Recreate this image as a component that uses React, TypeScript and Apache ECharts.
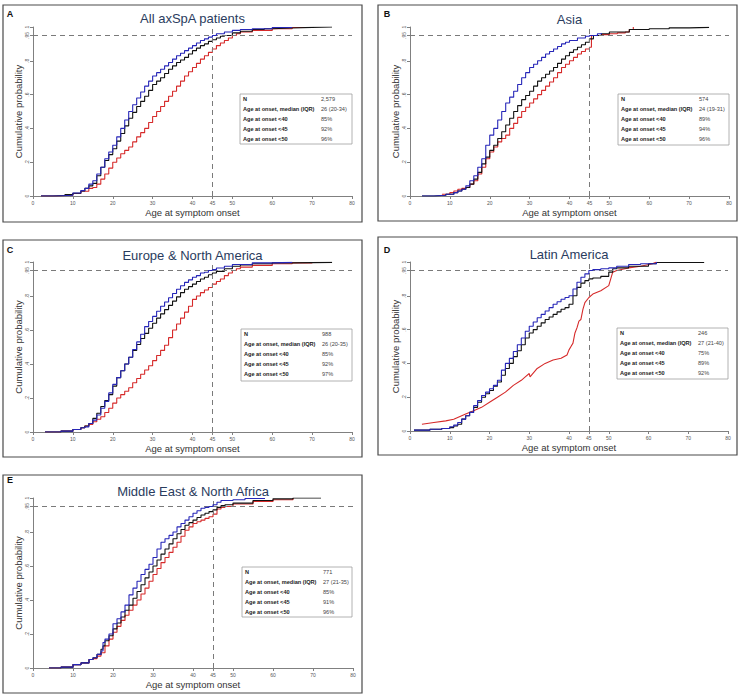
import { useEffect, useRef } from 'react';
import * as echarts from 'echarts';

// ---------- tick values ----------
const xTicks = [0, 10, 20, 30, 40, 45, 50, 60, 70, 80];
const yTicks = [0, 0.2, 0.4, 0.6, 0.8, 0.95, 1];

// ---------- titles / letters ----------
const panelTitles = ['All axSpA patients', 'Asia', 'Europe & North America', 'Latin America', 'Middle East & North Africa'];
const panelLetters = ['A', 'B', 'C', 'D', 'E'];

// ---------- table ----------
const tableLabels = ['N', 'Age at onset, median (IQR)', 'Age at onset <40', 'Age at onset <45', 'Age at onset <50'];
const tableAll = ['2,579', '26 (20-34)', '85%', '92%', '96%'];
const tableAsia = ['574', '24 (19-31)', '89%', '94%', '96%'];
const tableEurope = ['988', '26 (20-35)', '85%', '92%', '97%'];
const tableLatin = ['246', '27 (21-40)', '75%', '89%', '92%'];
const tableMena = ['771', '27 (21-35)', '85%', '91%', '96%'];

// ---------- curves: [age, cumulative probability] ----------
const allBlue = [[2,0],[6,0.004],[10,0.018],[12,0.032],[13,0.045],[14,0.07],[15,0.09],[16,0.13],[17,0.17],[18,0.22],[19,0.26],[20,0.3],[21,0.35],[22,0.4],[23,0.45],[24,0.5],[25,0.54],[26,0.58],[27,0.615],[28,0.65],[29,0.68],[30,0.71],[31,0.73],[32,0.75],[33,0.77],[34,0.79],[35,0.81],[36,0.83],[37,0.845],[38,0.86],[39,0.875],[40,0.89],[41,0.905],[42,0.92],[43,0.93],[44,0.94],[45,0.95],[46,0.96],[48,0.97],[50,0.98],[52,0.985],[55,0.99],[60,0.997],[65,1]];
const allBlack = [[2,0],[5,0.003],[8,0.008],[10,0.016],[12,0.03],[13,0.045],[14,0.06],[15,0.075],[16,0.12],[17,0.17],[18,0.21],[19,0.245],[20,0.28],[21,0.325],[22,0.37],[23,0.415],[24,0.46],[25,0.495],[26,0.53],[27,0.56],[28,0.59],[29,0.625],[30,0.66],[31,0.68],[32,0.7],[33,0.725],[34,0.75],[35,0.77],[36,0.79],[37,0.805],[38,0.82],[39,0.84],[40,0.86],[41,0.875],[42,0.89],[43,0.9],[44,0.915],[45,0.925],[46,0.935],[47,0.945],[48,0.95],[50,0.965],[52,0.975],[55,0.985],[58,0.99],[60,0.994],[65,0.998],[70,1],[75,1]];
const allRed = [[2,0],[6,0.004],[10,0.015],[12,0.028],[14,0.045],[15,0.05],[16,0.07],[17,0.1],[18,0.13],[19,0.165],[20,0.2],[21,0.225],[22,0.25],[23,0.27],[24,0.29],[25,0.32],[26,0.35],[27,0.375],[28,0.4],[29,0.435],[30,0.47],[31,0.5],[32,0.53],[33,0.56],[34,0.59],[35,0.62],[36,0.65],[37,0.68],[38,0.71],[39,0.735],[40,0.76],[41,0.785],[42,0.81],[43,0.83],[44,0.85],[45,0.87],[46,0.89],[47,0.905],[48,0.92],[49,0.935],[50,0.95],[51,0.96],[52,0.97],[55,0.98],[60,0.99],[65,0.997],[70,1]];

const asiaBlue = [[3,0],[6,0.004],[9,0.01],[11,0.02],[12,0.03],[13,0.04],[14,0.06],[15,0.09],[16,0.12],[17,0.17],[18,0.22],[19,0.3],[20,0.36],[21,0.4],[22,0.45],[23,0.5],[24,0.55],[25,0.585],[26,0.62],[27,0.66],[28,0.7],[29,0.73],[30,0.76],[31,0.78],[32,0.8],[33,0.82],[34,0.84],[35,0.855],[36,0.87],[37,0.885],[38,0.9],[39,0.91],[40,0.92],[42,0.935],[44,0.945],[45,0.95],[47,0.96],[48,0.965]];
const asiaBlack = [[3,0],[6,0.004],[9,0.01],[11,0.02],[12,0.03],[13,0.04],[14,0.05],[15,0.07],[16,0.1],[17,0.14],[18,0.19],[19,0.23],[20,0.27],[21,0.3],[22,0.34],[23,0.38],[24,0.42],[25,0.46],[26,0.5],[27,0.535],[28,0.57],[29,0.595],[30,0.62],[31,0.65],[32,0.68],[33,0.7],[34,0.72],[35,0.74],[36,0.76],[37,0.785],[38,0.81],[39,0.83],[40,0.85],[41,0.865],[42,0.88],[43,0.895],[44,0.91],[45,0.93],[46,0.95],[48,0.96],[50,0.97],[55,0.985],[60,0.99],[65,0.995],[70,0.998],[75,1]];
const asiaRed = [[8,0.01],[10,0.02],[11,0.03],[12,0.04],[13,0.045],[14,0.05],[15,0.07],[16,0.09],[17,0.13],[18,0.17],[19,0.22],[20,0.26],[21,0.29],[22,0.32],[23,0.34],[24,0.36],[25,0.4],[26,0.43],[27,0.465],[28,0.5],[29,0.525],[30,0.55],[31,0.575],[32,0.6],[33,0.625],[34,0.65],[35,0.675],[36,0.7],[37,0.73],[38,0.76],[39,0.78],[40,0.8],[41,0.82],[42,0.84],[43,0.855],[44,0.87],[45,0.88],[45.5,0.95],[48,0.955],[50,0.96],[52,0.965],[54,0.97],[55,0.985],[56,1]];

const europeBlue = [[3,0],[7,0.005],[10,0.015],[12,0.025],[13,0.03],[14,0.05],[15,0.07],[16,0.1],[17,0.14],[18,0.18],[19,0.23],[20,0.28],[21,0.32],[22,0.36],[23,0.4],[24,0.44],[25,0.485],[26,0.53],[27,0.575],[28,0.62],[29,0.65],[30,0.68],[31,0.71],[32,0.74],[33,0.765],[34,0.79],[35,0.815],[36,0.84],[37,0.86],[38,0.88],[39,0.895],[40,0.91],[41,0.92],[42,0.935],[43,0.94],[44,0.95],[45,0.955],[46,0.965],[48,0.975],[50,0.985],[55,0.995],[60,0.998],[65,1]];
const europeBlack = [[3,0],[7,0.005],[10,0.015],[12,0.025],[13,0.035],[14,0.05],[15,0.08],[16,0.11],[17,0.15],[18,0.185],[19,0.22],[20,0.27],[21,0.32],[22,0.36],[23,0.4],[24,0.44],[25,0.48],[26,0.515],[27,0.55],[28,0.58],[29,0.61],[30,0.64],[31,0.67],[32,0.695],[33,0.72],[34,0.745],[35,0.77],[36,0.795],[37,0.82],[38,0.84],[39,0.855],[40,0.87],[41,0.885],[42,0.9],[43,0.91],[44,0.925],[45,0.935],[46,0.945],[48,0.96],[50,0.975],[52,0.982],[55,0.99],[60,0.995],[65,0.998],[75,1]];
const europeRed = [[3,0],[7,0.005],[10,0.015],[12,0.025],[13,0.035],[14,0.045],[15,0.06],[16,0.075],[17,0.09],[18,0.115],[19,0.14],[20,0.17],[21,0.2],[22,0.22],[23,0.24],[24,0.26],[25,0.29],[26,0.315],[27,0.34],[28,0.365],[29,0.39],[30,0.42],[31,0.45],[32,0.48],[33,0.51],[34,0.555],[35,0.6],[36,0.635],[37,0.67],[38,0.705],[39,0.74],[40,0.78],[41,0.8],[42,0.82],[43,0.835],[44,0.85],[45,0.87],[46,0.885],[47,0.9],[48,0.92],[49,0.935],[50,0.95],[51,0.96],[52,0.97],[55,0.98],[60,0.99],[65,0.995],[70,1]];

const latinBlue = [[1,0.005],[5,0.01],[8,0.015],[10,0.025],[11,0.035],[12,0.05],[13,0.07],[14,0.09],[15,0.11],[16,0.15],[17,0.18],[18,0.21],[19,0.23],[20,0.25],[21,0.27],[22,0.3],[23,0.36],[24,0.4],[25,0.43],[26,0.47],[27,0.51],[28,0.55],[29,0.59],[30,0.62],[31,0.645],[32,0.67],[33,0.69],[34,0.71],[35,0.73],[36,0.75],[37,0.765],[38,0.78],[39,0.79],[40,0.8],[41,0.84],[42,0.88],[43,0.91],[44,0.93],[45,0.95],[46,0.955],[48,0.96],[50,0.965],[52,0.975],[55,0.985],[58,0.99],[62,1]];
const latinBlack = [[1,0.005],[5,0.01],[8,0.015],[10,0.02],[11,0.03],[12,0.04],[13,0.07],[14,0.09],[15,0.11],[16,0.14],[17,0.17],[18,0.2],[19,0.22],[20,0.24],[21,0.265],[22,0.29],[23,0.33],[24,0.37],[25,0.4],[26,0.44],[27,0.475],[28,0.51],[29,0.55],[30,0.58],[31,0.6],[32,0.62],[33,0.64],[34,0.66],[35,0.675],[36,0.69],[37,0.705],[38,0.72],[39,0.73],[40,0.75],[41,0.8],[42,0.85],[43,0.875],[44,0.89],[45,0.9],[46,0.905],[48,0.915],[50,0.94],[51,0.96],[52,0.965],[55,0.975],[60,0.99],[62,0.997],[74,1]];
const latinRed = [[3,0.04],[6,0.05],[9,0.06],[11,0.07],[12,0.08],[13,0.09],[14,0.1],[16,0.12],[18,0.14],[20,0.17],[22,0.2],[24,0.23],[26,0.27],[28,0.3],[29,0.32],[30,0.34],[30.2,0.32],[32,0.37],[34,0.4],[36,0.42],[38,0.43],[39.5,0.45],[40,0.48],[40.5,0.5],[41,0.52],[41.5,0.58],[42,0.61],[42.5,0.65],[43,0.66],[43.5,0.72],[44,0.76],[45,0.79],[46,0.81],[48,0.83],[50,0.86],[50.5,0.9],[51,0.94],[52,0.95],[55,0.965],[58,0.975],[61,0.99],[62,1]];

const menaBlue = [[4,0],[7,0.005],[10,0.02],[12,0.03],[14,0.05],[15,0.06],[16,0.08],[17,0.1],[17.5,0.15],[18,0.17],[19,0.2],[20,0.26],[21,0.29],[22,0.33],[23,0.37],[24,0.43],[25,0.47],[26,0.51],[27,0.55],[28,0.58],[29,0.61],[30,0.65],[31,0.7],[32,0.74],[33,0.76],[34,0.78],[35,0.8],[36,0.83],[37,0.85],[38,0.87],[39,0.89],[40,0.91],[41,0.925],[42,0.94],[43,0.945],[44,0.95],[45,0.96],[46,0.975],[47,0.985],[50,0.99],[53,0.997],[58,1]];
const menaBlack = [[4,0],[7,0.005],[10,0.02],[12,0.03],[14,0.05],[15,0.06],[16,0.08],[17,0.11],[17.5,0.13],[18,0.16],[19,0.19],[20,0.23],[21,0.265],[22,0.3],[23,0.34],[24,0.37],[25,0.41],[26,0.45],[27,0.49],[28,0.53],[29,0.565],[30,0.6],[31,0.635],[32,0.67],[33,0.7],[34,0.73],[35,0.76],[36,0.79],[37,0.815],[38,0.84],[39,0.855],[40,0.87],[41,0.885],[42,0.9],[43,0.91],[44,0.92],[45,0.93],[46,0.945],[47,0.955],[48,0.96],[50,0.97],[55,0.985],[60,0.995],[65,1],[72,1]];
const menaRed = [[4,0],[7,0.005],[10,0.02],[12,0.03],[14,0.05],[15,0.055],[16,0.07],[17,0.09],[18,0.13],[19,0.17],[20,0.21],[21,0.245],[22,0.28],[23,0.31],[24,0.34],[25,0.37],[26,0.4],[27,0.435],[28,0.47],[29,0.51],[30,0.55],[31,0.585],[32,0.62],[33,0.65],[34,0.68],[35,0.71],[36,0.74],[37,0.775],[38,0.81],[39,0.83],[40,0.85],[41,0.86],[42,0.87],[43,0.88],[44,0.89],[45,0.905],[46,0.935],[47,0.945],[48,0.95],[50,0.965],[55,0.98],[60,0.99],[65,1]];

const curveSets = [
  { blue: allBlue, black: allBlack, red: allRed, table: tableAll, redStep: true },
  { blue: asiaBlue, black: asiaBlack, red: asiaRed, table: tableAsia, redStep: true },
  { blue: europeBlue, black: europeBlack, red: europeRed, table: tableEurope, redStep: true },
  { blue: latinBlue, black: latinBlack, red: latinRed, table: tableLatin, redStep: false },
  { blue: menaBlue, black: menaBlack, red: menaRed, table: tableMena, redStep: true },
];

// ---------- layout (pixels) ----------
const layout = [
  { grid: { left: 33, top: 27, width: 319, height: 169 }, frame: [3, 5, 359, 217], titleY: 18, letter: [10, 14], table: [240, 94, 112, 50] },
  { grid: { left: 410, top: 27, width: 319, height: 169 }, frame: [378, 5, 359, 216], titleY: 19, letter: [387, 14], table: [618, 94, 111, 51] },
  { grid: { left: 33, top: 262, width: 319, height: 170 }, frame: [3, 240, 359, 217], titleY: 255, letter: [10, 250], table: [241, 329, 111, 52] },
  { grid: { left: 410, top: 262, width: 318, height: 169 }, frame: [378, 237, 359, 218], titleY: 254, letter: [387, 250], table: [617, 328, 111, 51] },
  { grid: { left: 33, top: 498, width: 320, height: 170 }, frame: [3, 475, 359, 218], titleY: 491, letter: [10, 480], table: [242, 567, 110, 50] },
];

const FONT = "'Liberation Sans', Arial, sans-serif";
const BLUE = '#2626b8';
const BLACK = '#111111';
const RED = '#d62a2a';

function tickFmt(v: number) {
  if (v === 0) return '0';
  if (v === 1) return '1';
  return String(v).replace(/^0/, '');
}

function buildOption() {
  const grids: any[] = [];
  const xAxes: any[] = [];
  const yAxes: any[] = [];
  const series: any[] = [];
  const graphics: any[] = [];

  layout.forEach((L, i) => {
    const c = curveSets[i];
    grids.push({ ...L.grid, containLabel: false, outerBoundsMode: 'none' });
    xAxes.push({
      type: 'value', gridIndex: i, min: 0, max: 80,
      axisLine: { show: true, lineStyle: { color: '#808080', width: 1 } },
      axisTick: { show: true, customValues: xTicks, length: 3, lineStyle: { color: '#808080' } },
      axisLabel: { customValues: xTicks, fontSize: 5, color: '#555', margin: 4, fontFamily: FONT },
      splitLine: { show: false },
      name: 'Age at symptom onset', nameLocation: 'middle', nameGap: 11,
      nameTextStyle: { fontSize: 9.5, color: '#333', fontFamily: FONT },
    });
    yAxes.push({
      type: 'value', gridIndex: i, min: 0, max: 1,
      axisLine: { show: true, lineStyle: { color: '#808080', width: 1 } },
      axisTick: { show: true, customValues: yTicks, length: 3, lineStyle: { color: '#808080' } },
      axisLabel: { customValues: yTicks, fontSize: 5, color: '#555', margin: 4, rotate: 90, formatter: tickFmt, fontFamily: FONT },
      splitLine: { show: false },
      name: 'Cumulative probability', nameLocation: 'middle', nameGap: 10,
      nameTextStyle: { fontSize: 9.5, color: '#333', fontFamily: FONT },
    });
    const base = { type: 'line', xAxisIndex: i, yAxisIndex: i, showSymbol: false, symbol: 'none', silent: true };
    series.push({
      ...base, name: 'red', data: c.red, step: c.redStep ? 'end' : false,
      lineStyle: { color: RED, width: 1.1 }, z: 3,
    });
    series.push({
      ...base, name: 'black', data: c.black, step: 'end',
      lineStyle: { color: BLACK, width: 1.1 }, z: 4,
      markLine: {
        silent: true, symbol: 'none', animation: false,
        label: { show: false },
        lineStyle: { color: '#7a7a7a', type: [5, 4], width: 1 },
        data: [{ yAxis: 0.95 }, { xAxis: 45 }],
      },
    });
    series.push({
      ...base, name: 'blue', data: c.blue, step: 'end',
      lineStyle: { color: BLUE, width: 1.1 }, z: 5,
    });

    // frame
    graphics.push({
      type: 'rect', shape: { x: L.frame[0], y: L.frame[1], width: L.frame[2], height: L.frame[3] },
      style: { fill: 'none', stroke: '#4a4a4a', lineWidth: 1.2 }, silent: true, z: 0,
    });
    // letter
    graphics.push({
      type: 'text', x: L.letter[0], y: L.letter[1],
      style: { text: panelLetters[i], font: `bold 9px ${FONT}`, fill: '#111', textAlign: 'center', textVerticalAlign: 'middle' },
    });
    // title
    graphics.push({
      type: 'text', x: L.grid.left + L.grid.width / 2, y: L.titleY,
      style: { text: panelTitles[i], font: `13px ${FONT}`, fill: '#2a3c5e', textAlign: 'center', textVerticalAlign: 'middle' },
    });
    // table
    const [tx, ty, tw, th] = L.table;
    const children: any[] = [
      { type: 'rect', shape: { x: 0, y: 0, width: tw, height: th }, style: { fill: '#fff', stroke: '#a0a0a0', lineWidth: 0.8 } },
    ];
    tableLabels.forEach((lab, r) => {
      children.push({
        type: 'text', x: 3, y: 5 + r * 10,
        style: { text: lab, font: `bold 5.6px ${FONT}`, fill: '#222', textVerticalAlign: 'middle' },
      });
      children.push({
        type: 'text', x: 81, y: 5 + r * 10,
        style: { text: c.table[r], font: `5.6px ${FONT}`, fill: '#444', textVerticalAlign: 'middle' },
      });
    });
    graphics.push({ type: 'group', x: tx, y: ty, z: 10, children });
  });

  return {
    animation: false,
    backgroundColor: '#ffffff',
    grid: grids,
    xAxis: xAxes,
    yAxis: yAxes,
    series,
    graphic: graphics,
  };
}

export default function App() {
  const ref = useRef<HTMLDivElement>(null);
  useEffect(() => {
    if (!ref.current) return;
    const chart = echarts.init(ref.current, undefined, { renderer: 'svg' });
    chart.setOption(buildOption() as any);
    return () => chart.dispose();
  }, []);
  return (
    <div
      ref={ref}
      style={{ position: 'absolute', left: 0, top: 0, width: 740, height: 696, background: '#fff' }}
    />
  );
}
